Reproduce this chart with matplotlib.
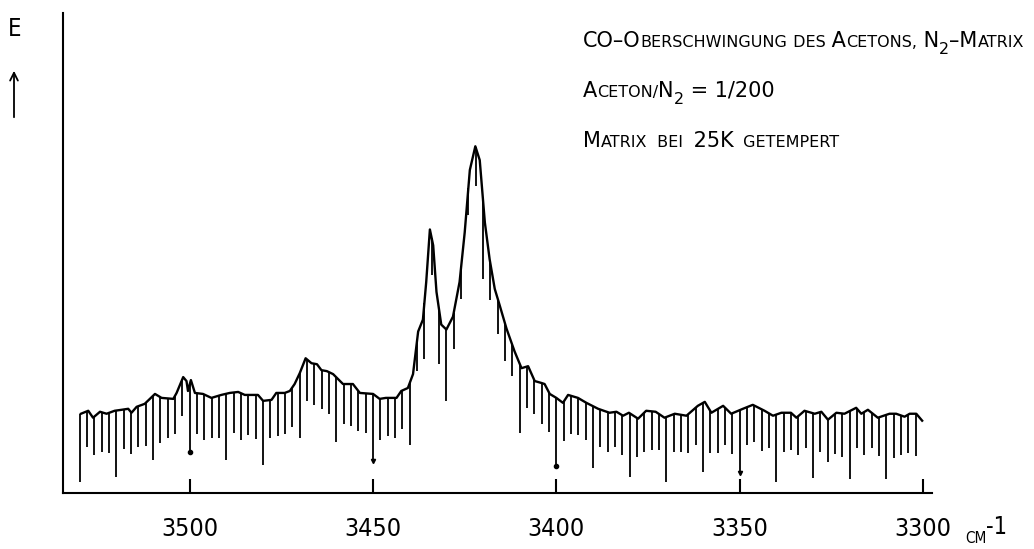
import numpy as np
import matplotlib
matplotlib.use("Agg")
import matplotlib.pyplot as plt
from matplotlib import font_manager as fm

# schmale Schrift suchen, sonst Liberation Sans
narrow = [f for f in fm.fontManager.ttflist
          if 'Narrow' in f.name or 'Condensed' in f.name or 'condensed' in str(f.stretch)]
if narrow:
    plt.rcParams['font.family'] = [narrow[0].name, 'DejaVu Sans']
    plt.rcParams['font.stretch'] = narrow[0].stretch
    NARROW = True
else:
    plt.rcParams['font.family'] = ['Liberation Sans', 'DejaVu Sans']
    NARROW = False

# Spur des Schreibers: Wellenzahl (cm-1) und Auslenkung (willkuerliche Einheiten)
trace_wn = [3529.7, 3527.7, 3526.4, 3524.5, 3522.7, 3520.5, 3518.6, 3516.8, 3515.9, 3514.5,
            3512.3, 3509.5, 3507.7, 3504.5, 3503.6, 3501.8, 3500.9, 3500.5, 3499.7, 3498.6,
            3496.4, 3494.1, 3491.4, 3489.1, 3486.8, 3485.0, 3481.4, 3480.0, 3477.7, 3476.4,
            3474.1, 3472.7, 3471.4, 3470.0, 3468.4, 3466.8, 3465.3, 3464.1, 3462.6, 3460.9,
            3458.2, 3455.5, 3453.6, 3450.0, 3448.2, 3446.5, 3443.6, 3442.3, 3440.5, 3439.1,
            3437.7, 3436.4, 3435.5, 3434.5, 3433.6, 3432.7, 3431.4, 3430.0, 3428.2, 3426.4,
            3425.0, 3423.6, 3422.1, 3420.9, 3419.5, 3418.2, 3416.8, 3415.5, 3413.6, 3411.4,
            3409.5, 3407.7, 3405.9, 3404.0, 3403.2, 3401.8, 3400.0, 3398.2, 3396.8, 3394.1,
            3391.8, 3388.6, 3385.5, 3383.6, 3381.8, 3380.2, 3377.7, 3375.5, 3372.9, 3370.5,
            3367.7, 3364.5, 3361.4, 3359.5, 3357.7, 3354.5, 3352.3, 3349.1, 3346.4, 3343.2,
            3340.9, 3338.6, 3336.0, 3334.5, 3332.3, 3329.5, 3327.7, 3325.9, 3323.6, 3321.4,
            3318.2, 3316.8, 3315.0, 3312.3, 3309.1, 3307.3, 3305.0, 3303.6, 3301.8, 3300.2]
trace_e = [80, 83, 76, 82, 80, 83, 84, 85, 81, 87,
           90, 100, 96, 95, 101, 117, 113, 103, 114, 101,
           100, 96, 99, 101, 102, 99, 99, 93, 94, 101,
           101, 103, 110, 121, 136, 131, 130, 124, 123, 120,
           110, 110, 101, 100, 95, 96, 96, 103, 106, 120,
           163, 175, 213, 266, 250, 203, 170, 165, 178, 213,
           263, 326, 350, 336, 273, 236, 206, 190, 166, 143,
           126, 128, 113, 111, 110, 100, 96, 91, 99, 96,
           91, 85, 81, 82, 78, 81, 75, 83, 82, 76,
           80, 78, 88, 92, 81, 88, 80, 85, 89, 83,
           78, 81, 81, 76, 83, 80, 82, 74, 81, 80,
           86, 80, 84, 76, 80, 80, 77, 80, 80, 73]

# Zeitmarken alle 2 cm-1, untere Enden der Marken
mark_wn = np.arange(3530, 3301, -2)
mark_low = [11, 46, 38, 41, 40, 16, 44, 39, 46, 47, 33, 50, 56, 60, 78, 41, 60, 54, 56, 56, 33,
            61, 54, 59, 55, 28, 56, 58, 60, 67, 56, 93, 89, 85, 80, 51, 70, 68, 63, 61, 32,
            53, 58, 56, 65, 48, 123, 135, 220, 130, 93, 145, 196, 281, 310, 216, 195, 161, 133, 118, 61,
            86, 80, 70, 62, 27, 52, 60, 59, 54, 25, 46, 41, 46, 38, 16, 36, 41, 43, 43, 11,
            41, 41, 40, 48, 21, 40, 40, 48, 39, 20, 48, 51, 42, 45, 11, 41, 43, 38, 45, 15,
            41, 31, 39, 36, 14, 45, 38, 45, 37, 14, 35, 38, 40, 37]
dot_wn = [3500, 3400]
arrow_wn = [3450, 3350]

xticks = [3500, 3450, 3400, 3350, 3300]

fig = plt.figure(figsize=(10.34, 5.49), dpi=100)
ax = fig.add_axes([0.0609, 0.102, 0.8405, 0.8752])

ax.plot(trace_wn, trace_e, color='black', lw=1.7)
tops = np.interp(mark_wn, trace_wn[::-1], trace_e[::-1])
ax.vlines(mark_wn, mark_low, tops, color='black', lw=1.3)
low_of = dict(zip(mark_wn.tolist(), mark_low))
ax.plot(dot_wn, [low_of[w] for w in dot_wn], 'o', color='black', ms=3)
ax.plot(arrow_wn, [low_of[w] for w in arrow_wn], 'v', color='black', ms=3)

ax.set_xlim(3534.6, 3297.5)
ax.set_ylim(0, 485)
ax.set_xticks(xticks)
ax.set_yticks([])
ax.tick_params(axis='x', direction='in', length=10, width=1.5, pad=17,
               labelsize=18 if NARROW else 16)
for s in ['top', 'right']:
    ax.spines[s].set_visible(False)
for s in ['left', 'bottom']:
    ax.spines[s].set_linewidth(1.5)

# Beschriftung oben rechts in normaler Breite
B, S = 15, 11.5
WIDE = dict(family=['DejaVu Sans'], fontstretch='normal')


def caps_line(x0, y0, runs, **kw):
    # Kapitaelchen aus Stuecken verschiedener Groesse zusammensetzen
    prev = None
    for txt, size, dy, gap in runs:
        if prev is None:
            prev = ax.annotate(txt, xy=(x0, y0 + dy), xycoords='figure pixels',
                               fontsize=size, va='baseline', ha='left', **kw)
        else:
            prev = ax.annotate(txt, xy=(1, y0 + dy), xycoords=(prev, 'figure pixels'),
                               xytext=(gap, 0), textcoords='offset points',
                               fontsize=size, va='baseline', ha='left', **kw)


caps_line(583, 502, [("CO–O", B, 0, 0), ("BERSCHWINGUNG", S, 0, 0), (" DES", S, 0, 0),
                     (" A", B, 0, 0), ("CETONS,", S, 0, 0), (" N", B, 0, 0),
                     ("2", S, -7, 0), ("–M", B, 0, 0), ("ATRIX", S, 0, 0)], **WIDE)
caps_line(583, 452, [("A", B, 0, 0), ("CETON/", S, 0, 0), ("N", B, 0, 0), ("2", S, -7, 0),
                     (" =", B, 0, 0), (" 1/200", B, 0, 0)], **WIDE)
caps_line(583, 402, [("M", B, 0, 0), ("ATRIX", S, 0, 0), (" BEI", S, 0, 3),
                     (" 25K", B, 0, 3), (" GETEMPERT", S, 0, 3)], **WIDE)
caps_line(965, 6, [("CM", S - 0.5, 0, 0), ("-1", B + 2, 9, 0)])

fig.text(15, 520, "E", fontsize=17, ha='center', va='center', transform=None)
ax.annotate('', xy=(14, 481), xytext=(14, 429), xycoords='figure pixels',
            textcoords='figure pixels',
            arrowprops=dict(arrowstyle='->', lw=1.3, color='black', mutation_scale=14))

fig.savefig('out.png', dpi=100)
